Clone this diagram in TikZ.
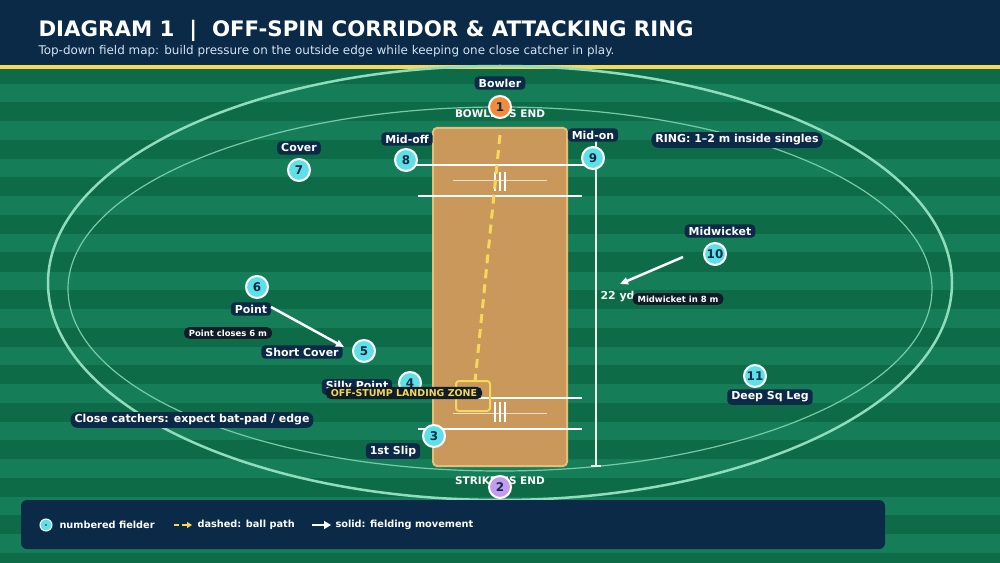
\documentclass[tikz,border=0pt]{standalone}
\usepackage{fontspec}
\setmainfont{DejaVu Sans}
\usetikzlibrary{arrows.meta}
\definecolor{navy}{HTML}{0B2A48}
\definecolor{gdark}{HTML}{0E6B48}
\definecolor{glight}{HTML}{157E58}
\definecolor{ring}{HTML}{8FDDBB}
\definecolor{pitch}{HTML}{C9985A}
\definecolor{pitchb}{HTML}{E6BE78}
\definecolor{ylw}{HTML}{F5D85A}
\definecolor{cyanf}{HTML}{5EE0E6}
\definecolor{orgf}{HTML}{F28C3C}
\definecolor{purf}{HTML}{C39BF0}
\definecolor{blk}{HTML}{101C28}
\definecolor{sub}{HTML}{D5E3F0}
\begin{document}
\begin{tikzpicture}[x=1bp,y=-1bp,
 lab/.style={fill=navy,text=white,font=\bfseries\fontsize{11}{11}\selectfont,rounded corners=4bp,inner xsep=4bp,inner ysep=2.5bp},
 slab/.style={fill=blk,text=white,font=\bfseries\fontsize{8.5}{9}\selectfont,rounded corners=5bp,inner xsep=5bp,inner ysep=2.5bp},
 fld/.style={circle,fill=cyanf,draw=white,line width=2bp,minimum size=22bp,inner sep=0pt,text=navy,font=\bfseries\fontsize{12}{12}\selectfont},
 mv/.style={white,line width=2.5bp,-{Triangle[length=8bp,width=7bp]}},
 crease/.style={white,line width=2.5bp}]
\useasboundingbox (0,0) rectangle (1000,563);
\fill[glight] (0,0) rectangle (1000,563);
\foreach \k in {0,...,13}{\fill[gdark] (0,65+37.5*\k) rectangle (1000,84+37.5*\k);}
\fill[navy] (0,0) rectangle (1000,66);
\fill[ylw] (0,65.5) rectangle (1000,69);
\node[anchor=west,text=white,font=\bfseries\fontsize{21.4}{22}\selectfont] (title) at (35,31) {DIAGRAM 1 \ | \ OFF-SPIN CORRIDOR \& ATTACKING RING};
\node[anchor=west,text=sub,font=\fontsize{12}{12}\selectfont] (subt) at (35,51) {Top-down field map: build pressure on the outside edge while keeping one close catcher in play.};
% field
\draw[ring,line width=2.5bp] (500,283) ellipse [x radius=452,y radius=217];
\draw[ring!80!glight,line width=1.2bp] (500,289) ellipse [x radius=432,y radius=182];
% pitch
\draw[pitchb,fill=pitch,line width=2bp,rounded corners=4bp] (433,128) rectangle (567,466);
\draw[white!70!pitch,line width=0.8bp] (453,180) -- (547,180) (453,413) -- (547,413);
\draw[white,line width=2bp] (495,172)--(495,191) (500,172)--(500,191) (505,172)--(505,191)
 (495,402)--(495,422) (500,402)--(500,422) (505,402)--(505,422);
\draw[crease] (407,165) -- (593,165);
\draw[crease] (418,196) -- (582,196);
\draw[crease] (418,398) -- (582,398);
\draw[crease] (418,429) -- (582,429);
% measurement
\draw[white!85!gray,line width=1.3bp] (596,130) -- (596,466) (591,130)--(601,130) (591,466)--(601,466);
\node[text=white!90!gray,font=\bfseries\fontsize{11}{11}\selectfont,anchor=west] (yd) at (597,297) {22 yd};
% ball path
\coordinate (bp1) at (500,135);
\coordinate (bp2) at (475,382);
\draw[ylw,line width=3bp,dash pattern=on 9bp off 6bp] (bp1) -- (bp2);
\draw[ylw,line width=2bp,rounded corners=3bp] (456,381) rectangle (490,411);
% end texts
\node[text=white,font=\bfseries\fontsize{10.5}{11}\selectfont] (be) at (500,114) {BOWLER'S END};
\node[text=white,font=\bfseries\fontsize{10.5}{11}\selectfont] (se) at (500,481) {STRIKER'S END};
% labels
\node[lab] (lb1) at (500,83) {Bowler};
\node[lab] (lb8) at (407,139) {Mid-off};
\node[lab] (lb9) at (593,135) {Mid-on};
\node[lab] (lb7) at (299,148) {Cover};
\node[lab] (lb10) at (720,231) {Midwicket};
\node[lab] (lb6) at (251,309) {Point};
\node[lab] (lb5) at (302,352) {Short Cover};
\node[lab] (lb4) at (357,387) {Silly Point};
\node[lab] (lb3) at (393,451) {1st Slip};
\node[lab] (lb11) at (770,397) {Deep Sq Leg};
\node[lab,rounded corners=7bp] (ring) at (737,140) {RING: 1–2 m inside singles};
\node[lab,rounded corners=7bp] (close) at (192,420) {Close catchers: expect bat-pad / edge};
% fielders
\node[fld,fill=orgf] (f1) at (500,107) {1};
\node[fld,fill=purf] (f2) at (500,487) {2};
\node[fld] (f3) at (434,436) {3};
\node[fld] (f4) at (410,383) {4};
\node[fld] (f5) at (364,351) {5};
\node[fld] (f6) at (257,287) {6};
\node[fld] (f7) at (299,170) {7};
\node[fld] (f8) at (406,160) {8};
\node[fld] (f9) at (593,158) {9};
\node[fld] (f10) at (715,254) {10};
\node[fld] (f11) at (755,376) {11};
% moves
\coordinate (m1a) at (271,307); \coordinate (m1b) at (344,347);
\coordinate (m2a) at (683,257); \coordinate (m2b) at (620,284);
\draw[mv] (m1a) -- (m1b);
\draw[mv] (m2a) -- (m2b);
\node[slab] (n1) at (228,333) {Point closes 6 m};
\node[slab] (n2) at (678,299) {Midwicket in 8 m};
\node[slab,text=ylw,font=\bfseries\fontsize{9.5}{10}\selectfont] (zone) at (404,393) {OFF-STUMP LANDING ZONE};
% legend
\fill[navy,rounded corners=6bp] (21,500) rectangle (885,549);
\node[circle,fill=cyanf,draw=white,line width=1bp,minimum size=12bp,inner sep=0pt] (lg1) at (46,525) {};
\fill[navy] (lg1) circle (0.8bp);
\node[anchor=west,text=white,font=\bfseries\fontsize{9.8}{10}\selectfont] (lt1) at (56,525) {numbered fielder};
\coordinate (lg2a) at (174,525); \coordinate (lg2b) at (192,525);
\draw[ylw,line width=2.5bp,dash pattern=on 5bp off 3bp,-{Triangle[length=5bp,width=6bp]}] (lg2a) -- (lg2b);
\node[anchor=west,text=white,font=\bfseries\fontsize{9.8}{10}\selectfont] (lt2) at (194,525) {dashed: ball path};
\coordinate (lg3a) at (312,525); \coordinate (lg3b) at (331,525);
\draw[white,line width=2bp,-{Triangle[length=7bp,width=8bp]}] (lg3a) -- (lg3b);
\node[anchor=west,text=white,font=\bfseries\fontsize{9.8}{10}\selectfont] (lt3) at (332,525) {solid: fielding movement};
\end{tikzpicture}
\end{document}
